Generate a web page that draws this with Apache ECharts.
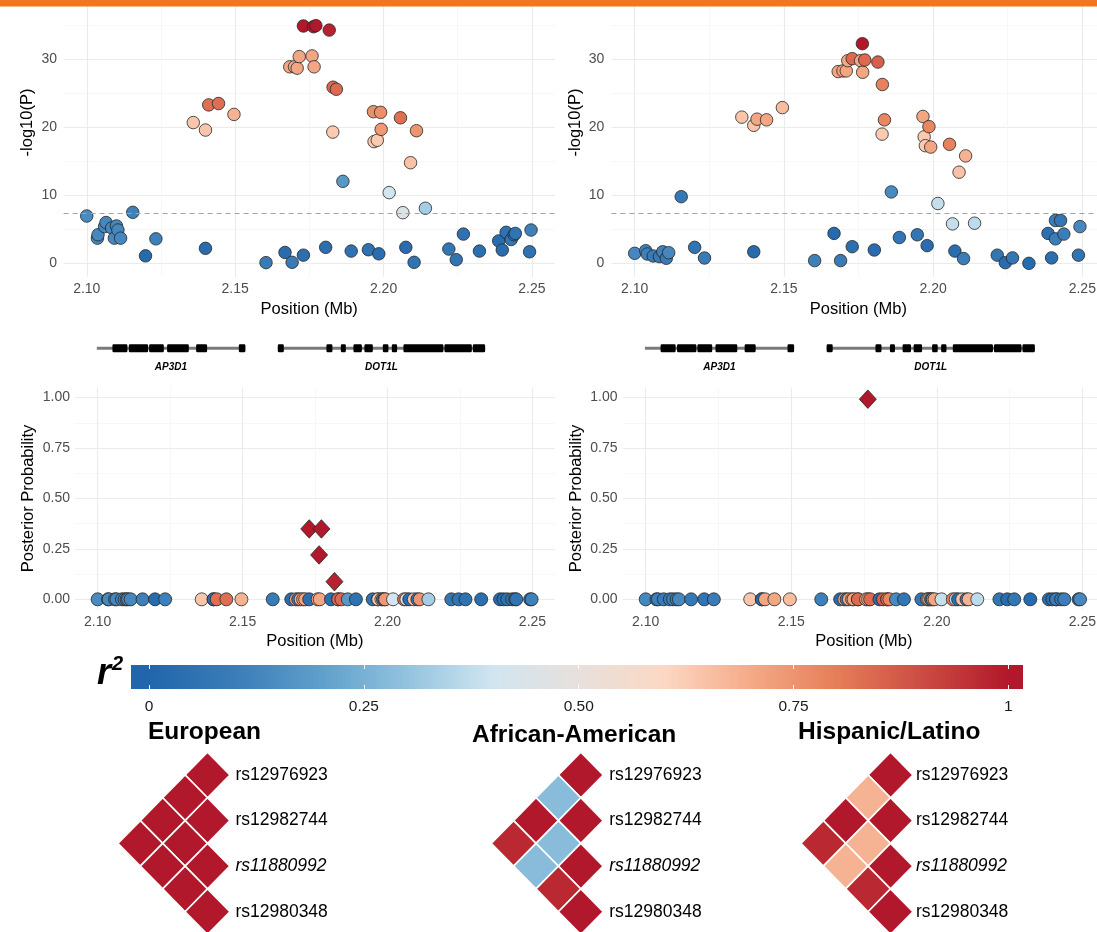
<!DOCTYPE html>
<html><head><meta charset="utf-8">
<script src="https://cdn.jsdelivr.net/npm/echarts@6/dist/echarts.min.js"></script>
<style>html,body{margin:0;padding:0;background:#fff}#c{width:1097px;height:932px}</style>
</head><body><div id="c"></div>
<script>
// ---------------- DATA ----------------
const xTicks = [2.10, 2.15, 2.20, 2.25];
const xMinorTicks = [2.125, 2.175, 2.225];
const logpTicks = [0, 10, 20, 30, 40];
const logpMinorTicks = [5, 15, 25, 35];
const ppTicks = [0, 0.25, 0.5, 0.75, 1];
const ppMinorTicks = [0.125, 0.375, 0.625, 0.875];
const r2Ticks = [0, 0.25, 0.5, 0.75, 1];
const r2TickLabels = ['0', '0.25', '0.50', '0.75', '1'];
const significance = 7.3;

// left analysis
const leftPos = [2.1000,2.1036,2.1038,2.1060,2.1065,2.1084,2.1093,2.1100,2.1105,2.1114,
2.1155,2.1198,2.1233,2.1359,2.1400,2.1400,2.1411,2.1444,2.1496,2.1604,
2.1668,2.1684,2.1692,2.1700,2.1709,2.1716,2.1730,2.1730,2.1759,2.1764,
2.1766,2.1772,2.1805,2.1817,2.1829,2.1830,2.1841,2.1863,2.1891,2.1949,
2.1966,2.1968,2.1979,2.1984,2.1990,2.1992,2.2019,2.2057,2.2065,2.2075,
2.2091,2.2103,2.2111,2.2141,2.2220,2.2245,2.2269,2.2323,2.2388,2.2400,
2.2413,2.2430,2.2440,2.2444,2.2492,2.2497];
const leftLogP = [6.96,3.7,4.2,5.4,6.0,5.2,3.7,5.5,4.9,3.7,
7.5,1.1,3.6,20.7,19.6,2.2,23.3,23.5,21.9,0.1,
1.6,28.9,0.15,28.9,28.7,30.4,34.9,1.2,30.5,34.8,
28.9,34.95,2.35,34.3,19.3,25.9,25.6,12.06,1.8,2.0,
22.3,17.9,18.1,1.4,22.2,19.7,10.4,21.4,7.45,2.35,
14.8,0.15,19.5,8.1,2.1,0.54,4.3,1.8,3.3,1.96,
4.56,3.5,4.2,4.4,1.7,4.9];
const leftR2 = [0.14,0.13,0.13,0.13,0.13,0.13,0.13,0.13,0.13,0.13,
0.11,0.02,0.11,0.64,0.64,0.03,0.83,0.83,0.68,0.09,
0.03,0.71,0.09,0.71,0.71,0.71,1.00,0.04,0.71,1.00,
0.71,1.00,0.04,0.98,0.63,0.84,0.84,0.18,0.05,0.05,
0.76,0.63,0.63,0.03,0.76,0.74,0.41,0.83,0.45,0.03,
0.65,0.06,0.75,0.33,0.07,0.06,0.05,0.04,0.03,0.03,
0.05,0.07,0.07,0.06,0.05,0.11];
const leftPP = [0,0,0,0,0,0,0,0,0,0,
0,0,0,0,0,0,0,0,0,0,
0,0,0,0,0,0,0.349,0,0,0.22,
0,0.349,0,0.0876,0,0,0,0,0,0,
0,0,0,0,0,0,0,0,0,0,
0,0,0,0,0,0,0,0,0,0,
0,0,0,0,0,0];

// right analysis
const rightPos = [2.1000,2.1037,2.1042,2.1062,2.1083,2.1094,2.1106,2.1114,2.1156,2.1201,
2.1234,2.1359,2.1399,2.1399,2.1410,2.1442,2.1495,2.1603,2.1668,2.1682,
2.1690,2.1698,2.1709,2.1714,2.1729,2.1729,2.1757,2.1763,2.1764,2.1771,
2.1803,2.1815,2.1829,2.1830,2.1837,2.1860,2.1887,2.1947,2.1966,2.1970,
2.1974,2.1980,2.1986,2.1992,2.2016,2.2055,2.2065,2.2073,2.2087,2.2102,
2.2109,2.2139,2.2215,2.2242,2.2266,2.2321,2.2385,2.2397,2.2410,2.2410,
2.2427,2.2438,2.2487,2.2492];
const rightLogP = [1.47,1.86,1.37,1.08,0.98,1.70,0.74,1.57,9.8,2.35,
0.78,21.5,20.3,1.7,21.2,21.1,22.9,0.4,4.4,28.2,
0.4,28.3,28.3,29.8,2.45,30.1,29.8,32.3,28.1,29.9,
1.96,29.6,19.0,26.3,21.1,10.5,3.8,4.2,21.6,18.6,
17.3,2.6,20.1,17.1,8.8,17.5,5.8,1.8,13.4,0.7,
15.8,5.9,1.2,0.1,0.8,0.0,4.4,0.8,3.6,6.3,
6.3,4.3,1.2,5.4];
const rightR2 = [0.13,0.11,0.11,0.09,0.09,0.11,0.09,0.13,0.08,0.06,
0.09,0.64,0.64,0.02,0.71,0.71,0.66,0.11,0.02,0.71,
0.09,0.71,0.71,0.71,0.04,0.84,0.71,1.00,0.71,0.84,
0.03,0.86,0.63,0.79,0.78,0.14,0.07,0.07,0.71,0.63,
0.63,0.03,0.78,0.71,0.38,0.79,0.38,0.03,0.65,0.10,
0.68,0.37,0.07,0.03,0.07,0.02,0.04,0.04,0.10,0.10,
0.07,0.10,0.06,0.13];
const rightPP = [0,0,0,0,0,0,0,0,0,0,
0,0,0,0,0,0,0,0,0,0,
0,0,0,0,0,0,0,0.992,0,0,
0,0,0,0,0,0,0,0,0,0,
0,0,0,0,0,0,0,0,0,0,
0,0,0,0,0,0,0,0,0,0,
0,0,0,0];

// genes (Mb)
const geneNames = ['AP3D1', 'DOT1L'];
const geneStart = [2.09972, 2.16216];
const geneEnd = [2.15088, 2.23367];
const geneExons = [
  [[2.10511,2.11028],[2.11076,2.11742],[2.11776,2.12284],[2.12397,2.13146],[2.13398,2.13777],[2.14871,2.15098]],
  [[2.16216,2.16423],[2.17892,2.18099],[2.18389,2.18562],[2.18824,2.19114],[2.19203,2.19493],[2.19838,2.20031],[2.20148,2.20331],[2.20549,2.21928],[2.21963,2.22908],[2.22942,2.23367]]
];

// LD (r2), upper triangle row by row (j >= i)
const ldSnps = ['rs12976923', 'rs12982744', 'rs11880992', 'rs12980348'];
const ldItalicSnp = 'rs11880992';
const ldEuropean = [[1.00, 1.00, 1.00, 1.00], [1.00, 1.00, 1.00], [1.00, 1.00], [1.00]];
const ldAfricanAmerican = [[1.00, 0.28, 1.00, 0.97], [1.00, 0.28, 0.28], [1.00, 0.97], [1.00]];
const ldHispanic = [[1.00, 0.68, 1.00, 0.97], [1.00, 0.68, 0.68], [1.00, 0.97], [1.00]];
const ldPopulations = ['European', 'African-American', 'Hispanic/Latino'];

// r2 colour scale (evenly spaced 0..1)
const R2_COLORS = ['#2166AC','#3A7DB8','#5E9FCB','#92C3DE','#D1E5F0','#E7E0DC','#FCD8C3','#F5AA87','#E57E58','#CC4C43','#B2182B'];
const r2BarRange = [-0.021, 1.017];

// ---------------- LAYOUT / STYLE ----------------
const FONT = 'Liberation Sans';
const TICK_COLOR = '#4D4D4D';
const GRID_MAJOR = '#EBEBEB';
const GRID_MINOR = '#F3F3F3';
const X_MIN = 2.0922, X_MAX = 2.2577;

const grids = [], xAxes = [], yAxes = [], series = [], colorSeries = [];

function addPanel(p, yTicks, yMinor, yFmt, yName) {
  const gi = grids.length;
  grids.push({left: p.left, top: p.top, width: p.width, height: p.height, containLabel: false, outerBoundsMode: 'none'});
  const xi = xAxes.length;
  xAxes.push({type: 'value', gridIndex: gi, min: X_MIN, max: X_MAX, position: 'bottom',
    axisLine: {show: false}, axisTick: {show: false, customValues: xTicks},
    axisLabel: {customValues: xTicks, formatter: v => v.toFixed(2), color: TICK_COLOR, fontSize: 14, fontFamily: FONT, margin: p.xLabelMargin},
    splitLine: {show: true, lineStyle: {color: GRID_MAJOR, width: 1.1}},
    name: 'Position (Mb)', nameLocation: 'middle', nameGap: p.xNameGap,
    nameTextStyle: {color: '#000', fontSize: 16.5, fontFamily: FONT}});
  xAxes.push({type: 'value', gridIndex: gi, min: X_MIN, max: X_MAX, position: 'top',
    axisLine: {show: false}, axisTick: {show: false, customValues: xMinorTicks}, axisLabel: {show: false},
    splitLine: {show: true, lineStyle: {color: GRID_MINOR, width: 0.7}}});
  const yi = yAxes.length;
  yAxes.push({type: 'value', gridIndex: gi, min: p.yMin, max: p.yMax, position: 'left',
    axisLine: {show: false}, axisTick: {show: false, customValues: yTicks},
    axisLabel: {customValues: yTicks, formatter: yFmt, color: TICK_COLOR, fontSize: 14, fontFamily: FONT, margin: p.yLabelMargin},
    splitLine: {show: true, lineStyle: {color: GRID_MAJOR, width: 1.1}},
    name: yName, nameLocation: 'middle', nameRotate: 90, nameGap: p.yNameGap,
    nameTextStyle: {color: '#000', fontSize: 16.5, fontFamily: FONT}});
  yAxes.push({type: 'value', gridIndex: gi, min: p.yMin, max: p.yMax, position: 'right',
    axisLine: {show: false}, axisTick: {show: false, customValues: yMinor}, axisLabel: {show: false},
    splitLine: {show: true, lineStyle: {color: GRID_MINOR, width: 0.7}}});
  return {gi, xi, yi};
}

const POINT_STYLE = {borderColor: '#262626', borderWidth: 0.8, opacity: 1};

function addManhattan(p, pos, logp, r2) {
  const ax = addPanel(p, logpTicks, logpMinorTicks, v => String(v), '-log10(P)');
  colorSeries.push(series.length);
  series.push({type: 'scatter', xAxisIndex: ax.xi, yAxisIndex: ax.yi, symbol: 'circle', symbolSize: 12.5,
    itemStyle: POINT_STYLE, data: pos.map((x, i) => [x, logp[i], r2[i]]),
    markLine: {silent: true, symbol: ['none', 'none'], label: {show: false}, animation: false,
      lineStyle: {type: [5, 4], color: '#A3A3A3', width: 1}, data: [{yAxis: significance}]}});
}

function addPosterior(p, pos, pp, r2) {
  const ax = addPanel(p, ppTicks, ppMinorTicks, v => v.toFixed(2), 'Posterior Probability');
  colorSeries.push(series.length);
  series.push({type: 'scatter', xAxisIndex: ax.xi, yAxisIndex: ax.yi, symbol: 'circle', symbolSize: 13,
    itemStyle: POINT_STYLE,
    data: pos.map((x, i) => [x, pp[i], r2[i]]).filter(d => d[1] === 0)});
  colorSeries.push(series.length);
  series.push({type: 'scatter', xAxisIndex: ax.xi, yAxisIndex: ax.yi, symbol: 'diamond', symbolSize: [17, 18.5],
    itemStyle: POINT_STYLE, z: 3,
    data: pos.map((x, i) => [x, pp[i], r2[i]]).filter(d => d[1] > 0)});
}

function addGeneTrack(left, width) {
  const gi = grids.length;
  grids.push({left: left, top: 338.3, width: width, height: 20, containLabel: false, outerBoundsMode: 'none'});
  const xi = xAxes.length;
  xAxes.push({type: 'value', gridIndex: gi, min: X_MIN, max: X_MAX, show: false});
  const yi = yAxes.length;
  yAxes.push({type: 'value', gridIndex: gi, min: 0, max: 1, show: false});
  series.push({type: 'custom', xAxisIndex: xi, yAxisIndex: yi, clip: false, silent: true,
    data: geneNames.map((n, i) => [geneStart[i], geneEnd[i], i]),
    renderItem: function (params, api) {
      const gIdx = api.value(2);
      const s = api.coord([api.value(0), 0.5]);
      const e = api.coord([api.value(1), 0.5]);
      const children = [{type: 'line', shape: {x1: s[0], y1: s[1], x2: e[0], y2: e[1]}, style: {stroke: '#7A7A7A', lineWidth: 3}}];
      geneExons[gIdx].forEach(function (ex) {
        const a = api.coord([ex[0], 0.5]), b = api.coord([ex[1], 0.5]);
        children.push({type: 'rect', shape: {x: a[0], y: a[1] - 4, width: Math.max(b[0] - a[0], 1.5), height: 8, r: 1.2}, style: {fill: '#000'}});
      });
      children.push({type: 'text', style: {text: geneNames[gIdx], x: (s[0] + e[0]) / 2, y: s[1] + 19.4,
        align: 'center', verticalAlign: 'middle', fontSize: 10, fontWeight: 'bold', fontStyle: 'italic', fontFamily: FONT, fill: '#000'}});
      return {type: 'group', children: children};
    }});
}

function addColorBar() {
  const gi = grids.length;
  grids.push({left: 131, top: 665, width: 892, height: 24, containLabel: false, outerBoundsMode: 'none'});
  const xi = xAxes.length;
  xAxes.push({type: 'value', gridIndex: gi, min: r2BarRange[0], max: r2BarRange[1], position: 'bottom', z: 10,
    axisLine: {show: false}, splitLine: {show: false},
    axisTick: {show: true, inside: true, length: 4, customValues: r2Ticks, lineStyle: {color: '#ffffff', width: 1}},
    axisLabel: {customValues: r2Ticks, formatter: v => r2TickLabels[r2Ticks.indexOf(v)] ?? String(v), color: '#1a1a1a', fontSize: 15.5, fontFamily: FONT, margin: 10}});
  xAxes.push({type: 'value', gridIndex: gi, min: r2BarRange[0], max: r2BarRange[1], position: 'top', z: 10,
    axisLine: {show: false}, splitLine: {show: false}, axisLabel: {show: false},
    axisTick: {show: true, inside: true, length: 4, customValues: r2Ticks, lineStyle: {color: '#ffffff', width: 1}}});
  const yi = yAxes.length;
  yAxes.push({type: 'value', gridIndex: gi, min: 0, max: 1, show: false});
  series.push({type: 'custom', xAxisIndex: xi, yAxisIndex: yi, silent: true, z: 1,
    data: [[r2BarRange[0], r2BarRange[1]]],
    renderItem: function (params, api) {
      const lo = api.value(0), hi = api.value(1);
      const p0 = api.coord([lo, 1]), p1 = api.coord([hi, 0]);
      const stops = R2_COLORS.map((c, i) => ({offset: Math.min(1, Math.max(0, (i / (R2_COLORS.length - 1) - lo) / (hi - lo))), color: c}));
      return {type: 'rect', shape: {x: p0[0], y: p0[1], width: p1[0] - p0[0], height: p1[1] - p0[1]},
        style: {fill: new echarts.graphic.LinearGradient(0, 0, 1, 0, stops)}};
    }});
}

const LD_COL = 22.4, LD_ROW = 45.57, LD_ROW0 = 775;
function addLD(matrix, col0X, labelMargin) {
  const gi = grids.length;
  grids.push({left: col0X - 4 * LD_COL, top: LD_ROW0 - 0.5 * LD_ROW, width: 5 * LD_COL, height: 4 * LD_ROW, containLabel: false, outerBoundsMode: 'none'});
  const xi = xAxes.length;
  xAxes.push({type: 'value', gridIndex: gi, min: -1, max: 4, inverse: true, show: false});
  const yi = yAxes.length;
  const idx = ldSnps.map((s, i) => i);
  yAxes.push({type: 'value', gridIndex: gi, min: -0.5, max: 3.5, inverse: true, position: 'right',
    axisLine: {show: false}, splitLine: {show: false}, axisTick: {show: false, customValues: idx},
    axisLabel: {customValues: idx, margin: labelMargin,
      formatter: v => { const n = ldSnps[Math.round(v)]; return n === ldItalicSnp ? '{it|' + n + '}' : '{n|' + n + '}'; },
      rich: {n: {fontSize: 17.5, color: '#000', fontFamily: FONT}, it: {fontSize: 17.5, color: '#000', fontStyle: 'italic', fontFamily: FONT}}}});
  const data = [];
  matrix.forEach((row, i) => row.forEach((v, k) => { const j = i + k; data.push([j - i, (i + j) / 2, v]); }));
  colorSeries.push(series.length);
  series.push({type: 'custom', xAxisIndex: xi, yAxisIndex: yi, clip: false, silent: true, data: data,
    renderItem: function (params, api) {
      const c = api.value(0), r = api.value(1);
      const pts = [[c + 1, r], [c, r - 0.5], [c - 1, r], [c, r + 0.5]].map(q => api.coord(q));
      return {type: 'polygon', shape: {points: pts}, style: {fill: api.visual('color'), stroke: '#ffffff', lineWidth: 1.6}};
    }});
}

addManhattan({left: 63.6, top: -32, width: 491.2, height: 309, yMin: -2.01, yMax: 43.43, yLabelMargin: 6.5, yNameGap: 27.5, xLabelMargin: 5, xNameGap: 23.5}, leftPos, leftLogP, leftR2);
addManhattan({left: 611.4, top: -32, width: 493.9, height: 309, yMin: -2.01, yMax: 43.43, yLabelMargin: 7, yNameGap: 27, xLabelMargin: 5, xNameGap: 23.5}, rightPos, rightLogP, rightR2);
addGeneTrack(75, 479.8);
addGeneTrack(623, 481.8);
addPosterior({left: 75, top: 387.5, width: 479.8, height: 221.9, yMin: -0.05, yMax: 1.05, yLabelMargin: 5, yNameGap: 38.5, xLabelMargin: 5.3, xNameGap: 23.5}, leftPos, leftPP, leftR2);
addPosterior({left: 623, top: 387.5, width: 481.8, height: 221.9, yMin: -0.05, yMax: 1.05, yLabelMargin: 5.5, yNameGap: 38.5, xLabelMargin: 5.3, xNameGap: 23.5}, rightPos, rightPP, rightR2);
addColorBar();
addLD(ldEuropean, 207.5, 5.5);
addLD(ldAfricanAmerican, 580.8, 6);
addLD(ldHispanic, 890.5, 3);

const titleFont = {fontSize: 24.5, fontWeight: 'bold', fontFamily: FONT, fill: '#000', verticalAlign: 'middle', align: 'left'};
const graphic = [
  {type: 'rect', shape: {x: 0, y: 0, width: 1097, height: 6.5}, style: {fill: '#F47521'}, z: 100},
  {type: 'text', x: 148, y: 732, style: Object.assign({text: ldPopulations[0]}, titleFont), z: 50},
  {type: 'text', x: 472, y: 735, style: Object.assign({text: ldPopulations[1]}, titleFont), z: 50},
  {type: 'text', x: 798, y: 732, style: Object.assign({text: ldPopulations[2]}, titleFont), z: 50},
  {type: 'text', x: 97, y: 674.5, style: {text: 'r', fontSize: 36, fontWeight: 'bold', fontStyle: 'italic', fontFamily: FONT, fill: '#000', verticalAlign: 'middle'}, z: 50},
  {type: 'text', x: 112, y: 664, style: {text: '2', fontSize: 20, fontWeight: 'bold', fontStyle: 'italic', fontFamily: FONT, fill: '#000', verticalAlign: 'middle'}, z: 50}
];

const chart = echarts.init(document.getElementById('c'), null, {renderer: 'canvas', width: 1097, height: 932});
chart.setOption({
  animation: false,
  backgroundColor: '#ffffff',
  textStyle: {fontFamily: FONT},
  grid: grids, xAxis: xAxes, yAxis: yAxes, series: series,
  visualMap: [{type: 'continuous', show: false, min: 0, max: 1, dimension: 2, seriesIndex: colorSeries, inRange: {color: R2_COLORS}}],
  graphic: graphic
});
</script></body></html>
